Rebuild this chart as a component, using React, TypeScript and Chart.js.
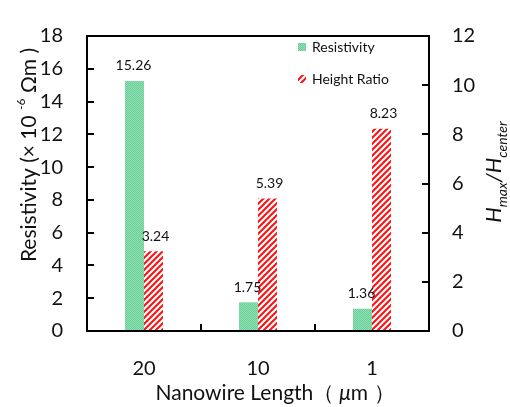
import React, { useEffect, useRef } from "react";
import { Chart, registerables } from "chart.js";

Chart.register(...registerables);

const categories = ["20", "10", "1"];
const resistivity = [15.26, 1.75, 1.36];
const heightRatio = [3.24, 5.39, 8.23];
const leftTicks = [0, 2, 4, 6, 8, 10, 12, 14, 16, 18];
const rightTicks = [0, 2, 4, 6, 8, 10, 12];
const seriesNames = ["Resistivity", "Height Ratio"];

const FONT = "Lato, 'Open Sans', sans-serif";

function makeGreen(): CanvasPattern | string {
  const c = document.createElement("canvas");
  c.width = 2;
  c.height = 2;
  const g = c.getContext("2d");
  if (!g) return "#7fd9a8";
  g.fillStyle = "#8fdfb4";
  g.fillRect(0, 0, 2, 2);
  g.fillStyle = "#6ccf98";
  g.fillRect(0, 0, 1, 1);
  g.fillRect(1, 1, 1, 1);
  return g.createPattern(c, "repeat") || "#7fd9a8";
}

function makeRed(): CanvasPattern | string {
  const c = document.createElement("canvas");
  c.width = 6;
  c.height = 6;
  const g = c.getContext("2d");
  if (!g) return "#ff2020";
  g.fillStyle = "#ffffff";
  g.fillRect(0, 0, 6, 6);
  g.strokeStyle = "#ff1010";
  g.lineWidth = 2;
  g.beginPath();
  g.moveTo(-1, 7);
  g.lineTo(7, -1);
  g.moveTo(-4, 4);
  g.lineTo(4, -4);
  g.moveTo(2, 10);
  g.lineTo(10, 2);
  g.stroke();
  return g.createPattern(c, "repeat") || "#ff2020";
}

export default function App() {
  const ref = useRef<HTMLCanvasElement | null>(null);

  useEffect(() => {
    document.body.style.margin = "0";
    const canvas = ref.current;
    if (!canvas) return;
    const green = makeGreen();
    const red = makeRed();

    const framePlugin = {
      id: "frameAndDecor",
      afterDraw(chart: any) {
        const ctx = chart.ctx as CanvasRenderingContext2D;
        const a = chart.chartArea;
        const yl = chart.scales.y;
        const yr = chart.scales.y1;
        const xs = chart.scales.x;
        ctx.save();
        // data labels
        ctx.fillStyle = "#111";
        ctx.font = `14px ${FONT}`;
        ctx.textAlign = "center";
        ctx.textBaseline = "bottom";
        chart.data.datasets.forEach((ds: any, di: number) => {
          const meta = chart.getDatasetMeta(di);
          meta.data.forEach((bar: any, i: number) => {
            const v = ds.data[i];
            ctx.fillText(v.toFixed(2), bar.x + (di === 1 ? 2 : -1), bar.y - 8);
          });
        });
        // frame
        ctx.strokeStyle = "#000";
        ctx.lineWidth = 2;
        ctx.strokeRect(a.left, a.top, a.right - a.left, a.bottom - a.top);
        // inward ticks
        ctx.beginPath();
        leftTicks.forEach((v) => {
          const y = Math.round(yl.getPixelForValue(v));
          ctx.moveTo(a.left, y);
          ctx.lineTo(a.left + 7, y);
        });
        rightTicks.forEach((v) => {
          const y = Math.round(yr.getPixelForValue(v));
          ctx.moveTo(a.right, y);
          ctx.lineTo(a.right - 7, y);
        });
        for (let i = 1; i < categories.length; i++) {
          const x = Math.round((xs.getPixelForTick(i - 1) + xs.getPixelForTick(i)) / 2);
          ctx.moveTo(x, a.bottom);
          ctx.lineTo(x, a.bottom - 7);
        }
        ctx.stroke();

        // legend
        const lx = 298;
        const lys = [47, 79];
        ctx.font = `14px ${FONT}`;
        ctx.textAlign = "left";
        ctx.textBaseline = "middle";
        chart.data.datasets.forEach((ds: any, di: number) => {
          ctx.fillStyle = ds.backgroundColor;
          ctx.fillRect(lx, lys[di] - 4, 8, 8);
          ctx.fillStyle = "#111";
          ctx.fillText(seriesNames[di], lx + 14, lys[di]);
        });

        // left axis title
        ctx.fillStyle = "#111";
        ctx.save();
        ctx.translate(28, 155);
        ctx.rotate(-Math.PI / 2);
        const big = `21px ${FONT}`;
        const small = `12px ${FONT}`;
        const parts: [string, string, number][] = [
          ["Resistivity (× 10 ", big, 0],
          ["-6", small, -8],
          [" Ωm )", big, 0],
        ];
        let total = 0;
        parts.forEach(([t, f]) => {
          ctx.font = f;
          total += ctx.measureText(t).width;
        });
        let x = -total / 2;
        ctx.textBaseline = "middle";
        ctx.textAlign = "left";
        parts.forEach(([t, f, dy]) => {
          ctx.font = f;
          ctx.fillText(t, x, dy + 1);
          x += ctx.measureText(t).width;
        });
        ctx.restore();

        // right axis title
        ctx.save();
        ctx.translate(494, 172);
        ctx.rotate(-Math.PI / 2);
        const ib = `italic 22px ${FONT}`;
        const is = `italic 14px ${FONT}`;
        const rparts: [string, string, number][] = [
          ["H", ib, 0],
          ["max", is, 6],
          ["/H", ib, 0],
          ["center", is, 6],
        ];
        total = 0;
        rparts.forEach(([t, f]) => {
          ctx.font = f;
          total += ctx.measureText(t).width;
        });
        x = -total / 2;
        ctx.textBaseline = "alphabetic";
        rparts.forEach(([t, f, dy]) => {
          ctx.font = f;
          ctx.fillText(t, x, 7 + dy);
          x += ctx.measureText(t).width;
        });
        ctx.restore();

        // x axis title
        const xbig = `21px ${FONT}`;
        const xparts: [string, string][] = [
          ["Nanowire Length（", xbig],
          [" μ", `italic 21px ${FONT}`],
          ["m ）", xbig],
        ];
        total = 0;
        xparts.forEach(([t, f]) => {
          ctx.font = f;
          total += ctx.measureText(t).width;
        });
        x = 275 - total / 2;
        ctx.textBaseline = "middle";
        xparts.forEach(([t, f]) => {
          ctx.font = f;
          ctx.fillText(t, x, 393);
          x += ctx.measureText(t).width;
        });
        ctx.restore();
      },
    };

    const chart = new Chart(canvas, {
      type: "bar",
      data: {
        labels: categories,
        datasets: [
          {
            label: seriesNames[0],
            data: resistivity,
            backgroundColor: green as any,
            borderWidth: 0,
            yAxisID: "y",
            categoryPercentage: 0.333,
            barPercentage: 1.0,
          },
          {
            label: seriesNames[1],
            data: heightRatio,
            backgroundColor: red as any,
            borderWidth: 0,
            yAxisID: "y1",
            categoryPercentage: 0.333,
            barPercentage: 1.0,
          },
        ],
      },
      options: {
        responsive: false,
        animation: false,
        devicePixelRatio: 1,
        layout: { padding: { top: 16, left: 0, right: 0, bottom: 0 } },
        plugins: {
          legend: { display: false },
          title: { display: false },
          tooltip: { enabled: false },
        },
        scales: {
          x: {
            grid: { display: false, drawTicks: false },
            border: { display: false },
            ticks: { color: "#111", font: { family: FONT, size: 20 }, padding: 26 },
            afterFit: (s: any) => {
              s.height = 76;
            },
          },
          y: {
            position: "left",
            min: 0,
            max: 18,
            grid: { display: false, drawTicks: false },
            border: { display: false },
            ticks: { stepSize: 2, color: "#111", font: { family: FONT, size: 20 }, padding: 24 },
            afterFit: (s: any) => {
              s.width = 87;
            },
          },
          y1: {
            position: "right",
            min: 0,
            max: 12,
            grid: { display: false, drawTicks: false },
            border: { display: false },
            ticks: { stepSize: 2, color: "#111", font: { family: FONT, size: 20 }, padding: 23 },
            afterFit: (s: any) => {
              s.width = 81;
            },
          },
        },
      },
      plugins: [framePlugin],
    });

    return () => chart.destroy();
  }, []);

  return (
    <div style={{ width: 510, height: 407, background: "#fff" }}>
      <canvas ref={ref} width={510} height={407} style={{ display: "block" }} />
    </div>
  );
}
